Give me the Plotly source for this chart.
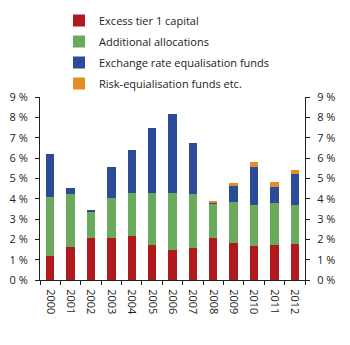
import plotly.graph_objects as go

years = [str(y) for y in range(2000, 2013)]
excess_tier1 = [1.18, 1.64, 2.09, 2.09, 2.16, 1.70, 1.47, 1.59, 2.05, 1.82, 1.65, 1.73, 1.78]
additional = [2.88, 2.57, 1.30, 1.95, 2.14, 2.56, 2.82, 2.65, 1.70, 2.04, 2.02, 2.05, 1.90]
exchange_rate = [2.16, 0.32, 0.05, 1.54, 2.08, 3.24, 3.88, 2.50, 0.05, 0.76, 1.91, 0.79, 1.51]
risk_eq = [0, 0, 0, 0, 0, 0, 0, 0, 0.11, 0.14, 0.23, 0.24, 0.21]

y_ticks = list(range(0, 10))
y_labels = [f"{v} %" for v in y_ticks]

series = [
    ("Excess tier 1 capital", excess_tier1, "#B0191E"),
    ("Additional allocations", additional, "#6AAA5A"),
    ("Exchange rate equalisation funds", exchange_rate, "#2B4A97"),
    ("Risk-equialisation funds etc.", risk_eq, "#E38D22"),
]

fig = go.Figure()
for i, (name, vals, col) in enumerate(series):
    fig.add_trace(go.Bar(
        x=years, y=vals, name=name, marker_color=col,
        marker_line_width=0, legendgroup=str(i),
    ))

# invisible trace so the right-hand axis is drawn
fig.add_trace(go.Scatter(x=years, y=excess_tier1, yaxis="y2", mode="none",
                         showlegend=False, hoverinfo="skip"))

fnt = "Open Sans, DejaVu Sans, sans-serif"
font = dict(family=fnt, size=11, color="#222")

plot_h = 345 - 97 - 65
plot_w = 350 - 40 - 45

axis_common = dict(
    range=[0, 9], tickvals=y_ticks, ticktext=y_labels,
    showgrid=False, zeroline=False,
    showline=True, linecolor="#222", linewidth=1,
    ticks="outside", ticklen=4, tickcolor="#222",
    tickfont=dict(size=11), ticklabelstandoff=5,
)

fig.update_layout(
    barmode="stack",
    bargap=0.59,
    width=350, height=345,
    margin=dict(l=40, r=45, t=97, b=65, autoexpand=False),
    plot_bgcolor="white", paper_bgcolor="white",
    font=font,
    showlegend=True,
    legend=dict(
        x=(59 - 40) / plot_w, y=1 + (97 - 6) / plot_h,
        xanchor="left", yanchor="top",
        font=dict(family=fnt, size=11, color="#222"),
        traceorder="grouped", tracegroupgap=2,
        bgcolor="rgba(0,0,0,0)",
    ),
    xaxis=dict(
        type="category", tickangle=90, showgrid=False,
        showline=True, linecolor="#222", linewidth=1,
        ticks="outside", ticklen=4, tickcolor="#222", tickson="boundaries",
        tickfont=dict(size=11), ticklabelstandoff=6,
    ),
    yaxis=dict(**axis_common),
    yaxis2=dict(**axis_common, overlaying="y", side="right"),
)

fig.write_html("out.html")
